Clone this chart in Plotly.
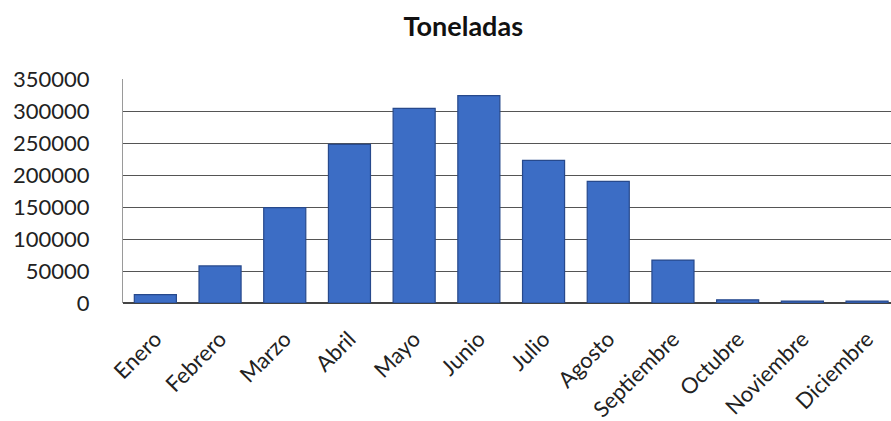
import plotly.graph_objects as go

meses = ["Enero", "Febrero", "Marzo", "Abril", "Mayo", "Junio", "Julio",
         "Agosto", "Septiembre", "Octubre", "Noviembre", "Diciembre"]
toneladas = [13000, 58000, 149000, 248000, 304000, 324000, 223000,
             190000, 67000, 5000, 3000, 3000]
y_ticks = [0, 50000, 100000, 150000, 200000, 250000, 300000, 350000]

fig = go.Figure(go.Bar(
    x=meses, y=toneladas,
    marker=dict(color="#3c6dc5", line=dict(color="#27498c", width=1.2)),
))

font = "Lato, 'Open Sans', sans-serif"
fig.update_layout(
    width=891, height=421,
    margin=dict(l=123, r=0, t=79, b=118),
    paper_bgcolor="white", plot_bgcolor="white",
    bargap=0.35,
    showlegend=False,
    title=dict(text="<b>Toneladas</b>", x=0.52, xanchor="center", y=0.936, yanchor="middle",
               font=dict(family=font, size=27, color="#111111")),
    font=dict(family=font, color="#222222"),
)
fig.update_yaxes(
    range=[0, 350000], tickvals=y_ticks, ticktext=[str(v) for v in y_ticks],
    showgrid=True, gridcolor="#555555", gridwidth=1,
    zeroline=True, zerolinecolor="#444444", zerolinewidth=1.5,
    showline=True, linecolor="#9a9a9a", linewidth=1,
    ticks="", ticklabelstandoff=28, automargin=False,
    tickfont=dict(family=font, size=22, color="#222222"),
)
fig.update_xaxes(
    range=[-0.5, 11.37], tickangle=-45, showgrid=False,
    tickfont=dict(family=font, size=22, color="#222222"),
    ticks="", ticklabelstandoff=18, automargin=False,
)

fig.write_html("out.html")
